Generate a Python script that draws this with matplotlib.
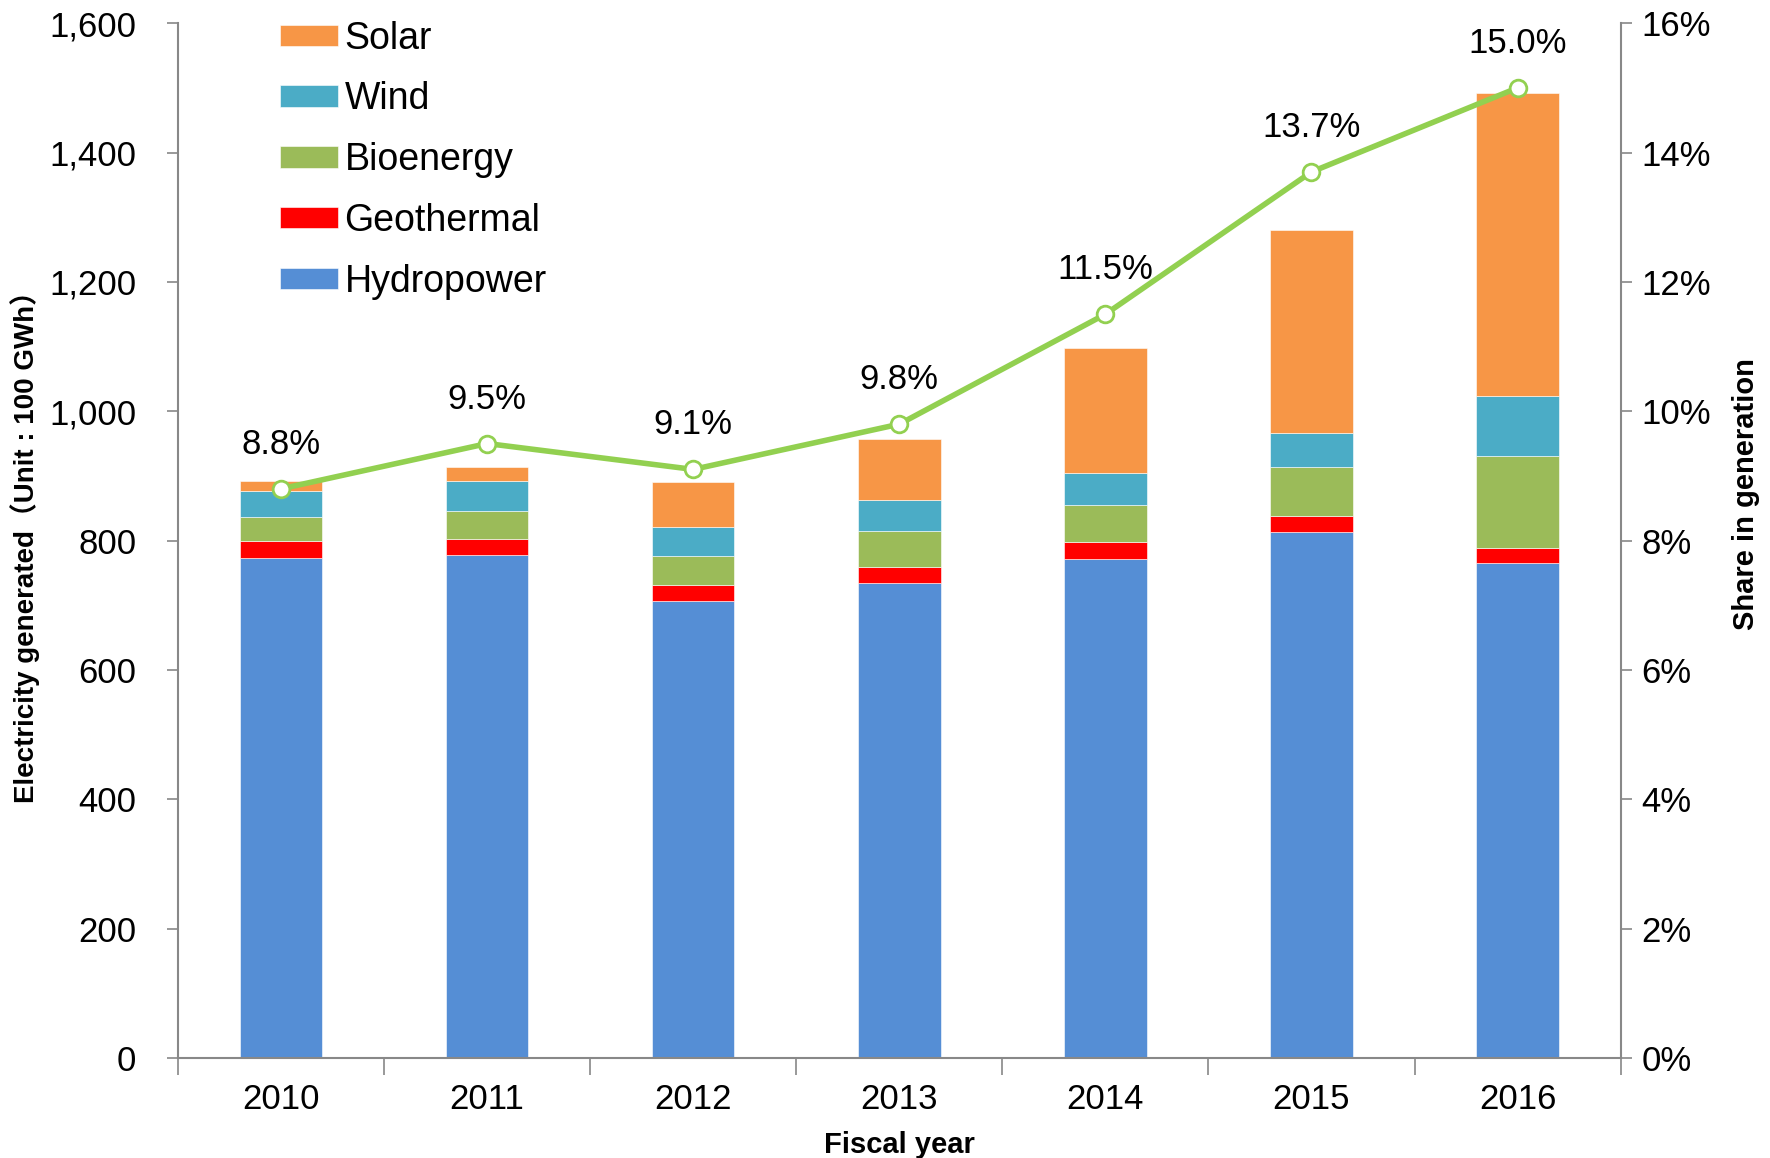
import matplotlib.pyplot as plt
import numpy as np
from matplotlib.ticker import FuncFormatter, FixedLocator

plt.rcParams['font.family'] = ['Liberation Sans', 'Noto Sans CJK JP', 'DejaVu Sans']

years = ['2010', '2011', '2012', '2013', '2014', '2015', '2016']
hydro = [773, 777, 707, 734, 771, 813, 765]
geothermal = [26, 26, 25, 25, 26, 25, 23]
bioenergy = [38, 43, 44, 55, 58, 75, 142]
wind = [40, 46, 45, 49, 49, 54, 93]
solar = [15, 22, 70, 94, 194, 313, 469]
share = [8.8, 9.5, 9.1, 9.8, 11.5, 13.7, 15.0]

series = [('Hydropower', hydro, '#558ED5'),
          ('Geothermal', geothermal, '#FF0000'),
          ('Bioenergy', bioenergy, '#9BBB59'),
          ('Wind', wind, '#4BACC6'),
          ('Solar', solar, '#F79646')]

fig = plt.figure(figsize=(17.7, 11.58), dpi=100)
ax = fig.add_axes([0.1006, 0.0864, 0.815, 0.8936])
x = np.arange(len(years))

bottom = np.zeros(len(years))
handles = []
for name, vals, col in series:
    b = ax.bar(x, vals, 0.4, bottom=bottom, color=col, label=name,
               edgecolor='white', linewidth=0.4)
    handles.append(b)
    bottom += np.array(vals)

ax.set_xlim(-0.5, 6.5)
ax.set_ylim(0, 1600)
ax.set_yticks(np.arange(0, 1601, 200))
ax.yaxis.set_major_formatter(FuncFormatter(lambda v, p: f'{int(v):,}'))
ax.set_xticks(x)
ax.set_xticklabels(years)
ax.xaxis.set_minor_locator(FixedLocator(np.arange(-0.5, 7, 1)))
ax.tick_params(axis='x', which='major', length=0, pad=18, labelsize=25)
ax.tick_params(axis='x', which='minor', length=12, color='#888888', width=1.2)
ax.tick_params(axis='y', length=8, color='#888888', width=1.2, labelsize=25, pad=22)

for s in ['top', 'right']:
    ax.spines[s].set_visible(False)
for s in ['left', 'bottom']:
    ax.spines[s].set_color('#888888')
    ax.spines[s].set_linewidth(1.5)

ax.set_xlabel('Fiscal year', fontsize=21, fontweight='bold', labelpad=11)
ax.set_ylabel('Electricity generated（Unit : 100 GWh）', fontsize=20, fontweight='bold')
ax.yaxis.set_label_coords(-0.096, 0.5)

ax2 = ax.twinx()
ax2.set_ylim(0, 16)
ax2.set_yticks(np.arange(0, 17, 2))
ax2.yaxis.set_major_formatter(FuncFormatter(lambda v, p: f'{int(v)}%'))
ax2.tick_params(axis='y', length=8, color='#888888', width=1.2, labelsize=25, pad=7)
for s in ['top', 'left', 'bottom']:
    ax2.spines[s].set_visible(False)
ax2.spines['right'].set_color('#888888')
ax2.spines['right'].set_linewidth(1.5)
ax2.plot(x, share, color='#92D050', linewidth=4, marker='o', markersize=12,
         markerfacecolor='white', markeredgecolor='#92D050', markeredgewidth=2, zorder=5)
for xi, v in zip(x, share):
    ax2.annotate(f'{v:.1f}%', (xi, v), xytext=(0, 32), textcoords='offset points',
                 ha='center', va='center', fontsize=25)
ax2.set_ylabel('Share in generation', fontsize=21, fontweight='bold')
ax2.yaxis.set_label_coords(1.077, 0.545)

leg = ax.legend(handles[::-1], [s[0] for s in series][::-1], loc='upper left',
                bbox_to_anchor=(0.047, 1.035), frameon=False, fontsize=27,
                handlelength=1.57, handleheight=0.51, labelspacing=0.66, handletextpad=0.16)

fig.savefig('out.png', dpi=100)
